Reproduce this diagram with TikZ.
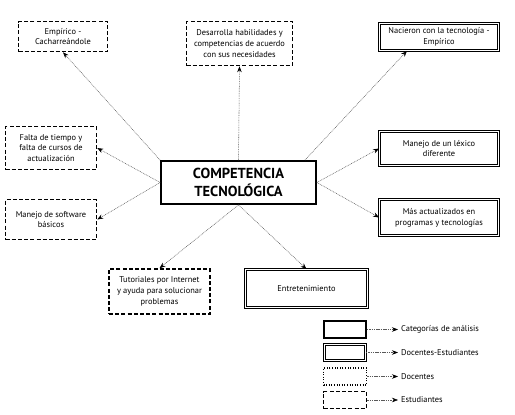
\documentclass[tikz,border=0pt]{standalone}
\usepackage{fontspec}
\setmainfont{PT Sans}
\usetikzlibrary{arrows.meta,calc}
\tikzset{
  box/.style={align=center, inner sep=1pt, font=\fontsize{8.4}{10.8}\selectfont},
  cat/.style={box, draw, line width=1.8pt},
  dual/.style={box, draw, line width=0.8pt, double, double distance=1.1pt},
  doc/.style={box, draw, line width=1.4pt, dash pattern=on 1pt off 1.6pt},
  est/.style={box, draw, line width=1.5pt, dash pattern=on 4pt off 2.2pt},
  link/.style={draw=black!65, line width=0.55pt, dash pattern=on 0.8pt off 0.9pt,
    -{Stealth[length=6pt,width=4.5pt,color=black]}},
  leglink/.style={draw=black!65, line width=0.55pt, dash pattern=on 1.5pt off 0.8pt,
    -{Stealth[length=6pt,width=4.5pt,color=black]}},
  legtext/.style={anchor=west, inner sep=3pt, font=\fontsize{8.4}{10}\selectfont}
}
\begin{document}
\begin{tikzpicture}[x=1pt,y=-1pt]
\useasboundingbox[fill=white] (0,0) rectangle (515,415);

\node[cat, minimum width=155pt, minimum height=43pt, font=\fontsize{14.5}{18}\bfseries\selectfont] (c) at (238.5,182.5) {COMPETENCIA\\TECNOLÓGICA};

\node[est, minimum width=89pt, minimum height=30pt] (emp) at (63,36.5) {Empírico -\\Cacharreándole};
\node[est, minimum width=106pt, minimum height=44pt] (des) at (239.5,43.5) {Desarrolla habilidades y\\competencias de acuerdo\\con sus necesidades};
\node[dual, minimum width=119pt, minimum height=27pt] (nac) at (439,37) {Nacieron con la tecnología -\\Empírico};
\node[est, minimum width=91pt, minimum height=43pt] (fal) at (51,148) {Falta de tiempo y\\falta de cursos de\\actualización};
\node[est, minimum width=91pt, minimum height=40pt] (sof) at (51,219.5) {Manejo de software\\básicos};
\node[dual, minimum width=119pt, minimum height=34pt] (lex) at (439,148.5) {Manejo de un léxico\\diferente};
\node[dual, minimum width=119pt, minimum height=36pt] (mas) at (439,217.5) {Más actualizados en\\programas y tecnologías};
\node[est, minimum width=101pt, minimum height=45pt] (tut) at (159.5,291.5) {Tutoriales por Internet\\y ayuda para solucionar\\problemas};
\node[dual, minimum width=122pt, minimum height=38pt] (ent) at (306.5,288.5) {Entretenimiento};

\draw[link] (c.north west) -- (emp.south);
\draw[link] (c.north) -- (des.south);
\draw[link] ([xshift=-12pt]c.north east) -- ([xshift=-32pt]nac.south);
\draw[link] (c.west) -- (fal.east);
\draw[link] (c.west) -- (sof.east);
\draw[link] (c.east) -- (lex.west);
\draw[link] (c.east) -- (mas.west);
\draw[link] (c.south) -- (tut.north);
\draw[link] (c.south) -- (ent.north);

% legend
\node[cat, minimum width=42pt, minimum height=17pt] (l1) at (345,329.5) {};
\node[dual, minimum width=41pt, minimum height=16pt] (l2) at (345,352.5) {};
\node[doc, minimum width=43pt, minimum height=17pt] (l3) at (345,376.5) {};
\node[est, minimum width=43pt, minimum height=17pt] (l4) at (345,400) {};
\node[legtext] (t1) at (398,329.5) {Categorías de análisis};
\node[legtext] (t2) at (398,352.5) {Docentes-Estudiantes};
\node[legtext] (t3) at (398,376.5) {Docentes};
\node[legtext] (t4) at (398,400) {Estudiantes};
\draw[leglink] (l1.east) -- (t1.west);
\draw[leglink] (l2.east) -- (t2.west);
\draw[leglink] (l3.east) -- (t3.west);
\draw[leglink] (l4.east) -- (t4.west);
\end{tikzpicture}
\end{document}
